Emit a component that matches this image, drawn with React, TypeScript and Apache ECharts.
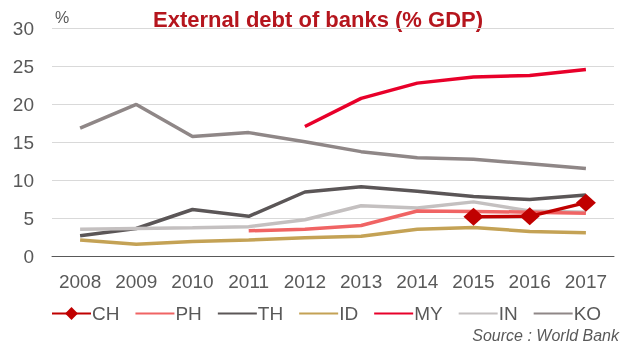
import React, { useEffect, useRef } from "react";
import * as echarts from "echarts";

const years = ["2008", "2009", "2010", "2011", "2012", "2013", "2014", "2015", "2016", "2017"];
const CH = [null, null, null, null, null, null, null, 5.25, 5.3, 7.1];
const PH = [null, null, null, 3.4, 3.6, 4.1, 6.0, 5.95, 5.85, 5.7];
const TH = [2.75, 3.7, 6.2, 5.3, 8.5, 9.2, 8.6, 7.9, 7.5, 8.1];
const ID = [2.2, 1.65, 2.0, 2.2, 2.5, 2.7, 3.6, 3.85, 3.3, 3.15];
const MY = [null, null, null, null, 17.1, 20.8, 22.8, 23.6, 23.8, 24.6];
const IN = [3.6, 3.7, 3.8, 3.95, 4.85, 6.7, 6.4, 7.2, 6.0, 5.85];
const KO = [16.9, 20.0, 15.8, 16.3, 15.1, 13.8, 13.0, 12.8, 12.2, 11.6];

const seriesDefs = [
  { name: "CH", data: CH, color: "#c00000", symbol: "diamond" },
  { name: "PH", data: PH, color: "#f06464", symbol: "none" },
  { name: "TH", data: TH, color: "#5b5657", symbol: "none" },
  { name: "ID", data: ID, color: "#c4a255", symbol: "none" },
  { name: "MY", data: MY, color: "#e8002a", symbol: "none" },
  { name: "IN", data: IN, color: "#c4c0c0", symbol: "none" },
  { name: "KO", data: KO, color: "#8f8787", symbol: "none" },
];

export default function App() {
  const ref = useRef<HTMLDivElement>(null);
  useEffect(() => {
    const chart = echarts.init(ref.current!, null, { renderer: "svg" });
    const font = "Liberation Sans, Arial, sans-serif";
    const order = ["KO", "MY", "TH", "IN", "PH", "ID", "CH"];
    const series = seriesDefs.map((s) => ({
      name: s.name,
      type: "line",
      data: s.data,
      color: s.color,
      symbol: s.symbol,
      symbolSize: [20, 18],
      showSymbol: s.symbol !== "none",
      lineStyle: { width: 3.5, color: s.color },
      itemStyle: { color: s.color },
      z: 2 + order.indexOf(s.name),
      connectNulls: false,
    }));
    chart.setOption({
      animation: false,
      textStyle: { fontFamily: font },
      graphic: [
        {
          type: "text",
          x: 318,
          y: 19,
          style: {
            text: "External debt of banks (% GDP)",
            fill: "#b5151d",
            fontSize: 22,
            fontWeight: "bold",
            fontFamily: font,
            align: "center",
            verticalAlign: "middle",
          },
        },
        {
          type: "text",
          x: 55,
          y: 17,
          style: {
            text: "%",
            fill: "#595959",
            fontSize: 16,
            fontFamily: font,
            verticalAlign: "middle",
          },
        },
        {
          type: "text",
          x: 619,
          y: 335,
          style: {
            text: "Source : World Bank",
            fill: "#595959",
            fontSize: 16,
            fontStyle: "italic",
            fontFamily: font,
            align: "right",
            verticalAlign: "middle",
          },
        },
      ],
      legend: {
        left: 51,
        top: 304,
        padding: 0,
        itemWidth: 39,
        itemHeight: 16,
        itemGap: 15,
        textStyle: { color: "#595959", fontSize: 19, fontFamily: font, padding: [0, 0, 0, -4] },
        data: seriesDefs.map((s) =>
          s.symbol === "none"
            ? { name: s.name, itemStyle: { color: "rgba(0,0,0,0)", borderWidth: 0 } }
            : { name: s.name }
        ),
      },
      grid: { left: 52, right: 18, top: 28.3, bottom: 345 - 256.7, containLabel: false },
      xAxis: {
        type: "category",
        data: years,
        boundaryGap: true,
        axisLine: { lineStyle: { color: "#595959", width: 1 } },
        axisTick: { show: false },
        axisLabel: { color: "#595959", fontSize: 19, margin: 15, fontFamily: font },
      },
      yAxis: {
        type: "value",
        min: 0,
        max: 30,
        interval: 5,
        axisLine: { show: false },
        axisTick: { show: false },
        axisLabel: { color: "#595959", fontSize: 19, margin: 18, fontFamily: font },
        splitLine: { lineStyle: { color: "#d9d9d9", width: 1 } },
      },
      series,
    });
    return () => chart.dispose();
  }, []);
  return (
    <div
      ref={ref}
      style={{ position: "fixed", left: 0, top: 0, width: 632, height: 345 }}
    />
  );
}
